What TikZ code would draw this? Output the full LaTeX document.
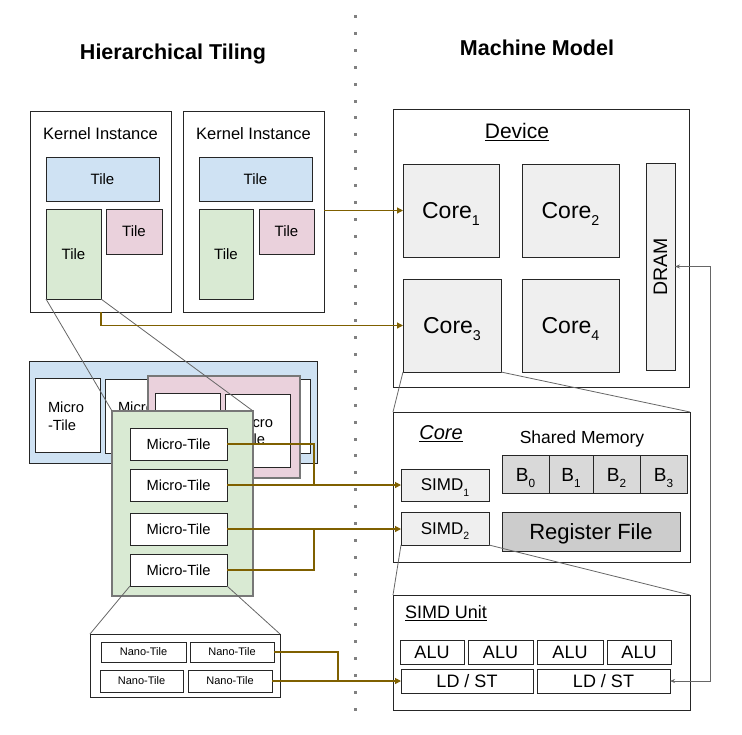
\documentclass[tikz,border=0pt]{standalone}
\usepackage{fontspec}
\usepackage{graphicx}
\setmainfont{Liberation Sans}
\usetikzlibrary{arrows.meta}
\definecolor{linkol}{HTML}{7F6000}
\definecolor{lblue}{HTML}{CFE2F3}
\definecolor{lgreen}{HTML}{D9EAD3}
\definecolor{lpink}{HTML}{EAD1DC}
\definecolor{lgray}{HTML}{EFEFEF}
\definecolor{mgray}{HTML}{D9D9D9}
\definecolor{dgray}{HTML}{CCCCCC}
\definecolor{edgegray}{HTML}{777777}
\newcommand\fsz[1]{\fontsize{#1}{#1}\selectfont}
\newcommand\sbs[1]{\raisebox{-0.32em}{\scalebox{0.62}{#1}}}
\begin{document}
\begin{tikzpicture}[x=1pt,y=-1pt,
  R/.style n args={4}{at={(#1,#2)},anchor=north west,minimum width=#3pt,minimum height=#4pt},
  bx/.style={draw=black!85,line width=0.9pt,inner sep=0pt,outer sep=0pt,fill=white,text depth=0pt},
  gbx/.style={draw=edgegray,line width=1.2pt,inner sep=0pt,outer sep=0pt},
  lab/.style={inner sep=0pt,outer sep=0pt},
  zl/.style={draw=black!60,line width=0.8pt},
  ol/.style={draw=linkol,line width=1.1pt},
  olar/.style={ol,-{Triangle[length=6pt,width=6pt]}},
  gar/.style={draw=black!60,line width=0.8pt,{Stealth[length=5pt,width=4pt]}-{Stealth[length=5pt,width=4pt]}},
  bnk/.style={bx,fill=mgray,font=\fsz{19}}
]
\useasboundingbox (0,0) rectangle (742,734);
% divider dots
\foreach \i in {0,...,41} \fill[black!50] (353.5,{15+\i*16.9}) rectangle ++(3,3);
% titles
\node[lab,anchor=base,font=\bfseries\fsz{21.5}] (t1) at (173,59) {Hierarchical Tiling};
\node[lab,anchor=base,font=\bfseries\fsz{21.5}] (t2) at (537,55) {Machine Model};
% kernel instances
\node[bx,R={30}{111}{141}{201}] (ki1) {};
\node[lab,font=\fsz{16.5}] (ki1lab) at (100.5,134) {Kernel Instance};
\node[bx,fill=lblue,R={46}{157}{113}{44},font=\fsz{15}] (b1) {Tile};
\node[bx,fill=lgreen,R={46}{209}{55}{90},font=\fsz{15}] (g1) {Tile};
\node[bx,fill=lpink,R={106}{209}{56}{45},font=\fsz{15}] (p1) {Tile};
\node[bx,R={183}{111}{141}{201}] (ki2) {};
\node[lab,font=\fsz{16.5}] (ki2lab) at (253.5,134) {Kernel Instance};
\node[bx,fill=lblue,R={199}{157}{113}{44},font=\fsz{15}] (b2) {Tile};
\node[bx,fill=lgreen,R={199}{209}{54}{90},font=\fsz{15}] (g2) {Tile};
\node[bx,fill=lpink,R={259}{209}{55}{45},font=\fsz{15}] (p2) {Tile};
% blue tile expanded
\node[bx,fill=lblue,R={29}{361}{288}{102}] (bbig) {};
\node[bx,R={35}{378}{65}{74}] (bm1) {};
\node[lab,anchor=west,align=left,font=\fontsize{14.7}{18}\selectfont] (bm1t) at (48,416) {Micro\\-Tile};
\node[bx,R={105}{379}{205}{74}] (bm2) {};
\node[lab,anchor=west,align=left,font=\fontsize{14.7}{18}\selectfont] (bm2t) at (118,416) {Micro\\-Tile};
% pink tile expanded
\node[gbx,fill=lpink,R={148}{376}{152}{102}] (pbig) {};
\node[bx,R={155}{393}{65}{74}] (pm1) {};
\node[bx,R={225}{394}{65}{73}] (pm2) {};
\node[lab,anchor=west,align=left,font=\fontsize{14.7}{17}\selectfont] (pm2t) at (237,431) {Micro\\-Tile};
% green tile expanded
\node[gbx,fill=lgreen,R={112}{411}{141}{185}] (gbig) {};
\node[bx,R={130}{428}{97}{32},font=\fsz{14.7}] (mt1) {Micro-Tile};
\node[bx,R={130}{469}{97}{32},font=\fsz{14.7}] (mt2) {Micro-Tile};
\node[bx,R={130}{513}{97}{32},font=\fsz{14.7}] (mt3) {Micro-Tile};
\node[bx,R={130}{554}{97}{32},font=\fsz{14.7}] (mt4) {Micro-Tile};
% nano tiles
\node[bx,R={90}{634}{190}{63}] (nano) {};
\node[bx,R={101}{642}{85}{20},font=\fsz{11}] (n1) {Nano-Tile};
\node[bx,R={190}{642}{84}{20},font=\fsz{11}] (n2) {Nano-Tile};
\node[bx,R={100}{670}{83}{22},font=\fsz{11}] (n3) {Nano-Tile};
\node[bx,R={188}{670}{84}{22},font=\fsz{11}] (n4) {Nano-Tile};
% device
\node[bx,R={393}{109}{296}{278}] (dev) {};
\node[lab,font=\fsz{21}] (devlab) at (517,132) {\underline{Device}};
\node[bx,fill=lgray,R={403}{164}{96}{93},font=\fsz{23}] (c1) {Core\sbs{1}};
\node[bx,fill=lgray,R={522}{164}{97}{93},font=\fsz{23}] (c2) {Core\sbs{2}};
\node[bx,fill=lgray,R={403}{279}{98}{93},font=\fsz{23}] (c3) {Core\sbs{3}};
\node[bx,fill=lgray,R={522}{279}{97}{93},font=\fsz{23}] (c4) {Core\sbs{4}};
\node[bx,fill=lgray,R={646}{163}{29}{207},font=\fsz{19.5}] (dram) {\rotatebox{90}{DRAM}};
% core
\node[bx,R={393}{412}{297}{150}] (corebox) {};
\node[lab,font=\itshape\fsz{20}] (corelab) at (441,434) {\underline{Core}};
\node[lab,font=\fsz{17.5}] (smlab) at (582,439) {Shared Memory};
\node[bnk,R={502}{455}{47}{38}] (B0) {};
\node[bnk,R={549}{455}{44}{38}] (B1) {};
\node[bnk,R={593}{455}{47}{38}] (B2) {};
\node[bnk,R={640}{455}{47}{38}] (B3) {};
\foreach \b/\k in {B0/0,B1/1,B2/2,B3/3}
  \node[lab,font=\fsz{19}] (\b lab) at ([yshift=-4pt]\b.center) {B\sbs{\k}};
\node[bx,fill=dgray,R={502}{512}{178}{39},font=\fsz{22}] (rf) {Register File};
\node[bx,fill=lgray,R={401}{469}{88}{32},font=\fsz{17}] (s1) {SIMD\sbs{1}};
\node[bx,fill=lgray,R={401}{512}{88}{33},font=\fsz{17}] (s2) {SIMD\sbs{2}};
% simd unit
\node[bx,R={393}{595}{297}{115}] (simdu) {};
\node[lab,anchor=west,font=\fsz{18}] (sulab) at (405,613) {\underline{SIMD Unit}};
\node[bx,R={400}{640}{64}{24},font=\fsz{18}] (alu1) {ALU};
\node[bx,R={468}{640}{65}{24},font=\fsz{18}] (alu2) {ALU};
\node[bx,R={537}{640}{66}{24},font=\fsz{18}] (alu3) {ALU};
\node[bx,R={607}{640}{64}{24},font=\fsz{18}] (alu4) {ALU};
\node[bx,R={401}{669}{132}{24},font=\fsz{18}] (ld1) {LD / ST};
\node[bx,R={537}{669}{133}{24},font=\fsz{18}] (ld2) {LD / ST};
% zoom lines
\draw[zl] (g1.south west) -- (gbig.north west);
\draw[zl] (g1.south east) -- (gbig.north east);
\draw[zl] (mt4.south west) -- (nano.north west);
\draw[zl] (mt4.south east) -- (nano.north east);
\draw[zl] (c3.south west) -- (corebox.north west);
\draw[zl] (c3.south east) -- (corebox.north east);
\draw[zl] (s2.south west) -- (simdu.north west);
\draw[zl] (s2.south east) -- (simdu.north east);
% mapping connectors
\coordinate (jA) at (314,0);
\coordinate (jN) at (338,0);
\coordinate (jD) at (710,0);
\draw[olar] (ki2.east |- c1.west) -- (c1.west);
\draw[olar] (ki1.south -| g1.east) |- (c3.west);
\draw[ol] (mt1.east) -| (jA |- mt2.east);
\draw[olar] (mt2.east) -- (mt2.east -| s1.west);
\draw[ol] (mt4.east) -| (jA |- mt3.east);
\draw[olar] (mt3.east) -- (mt3.east -| s2.west);
\draw[ol] (n2.east) -| (jN |- n4.east);
\draw[olar] (n4.east) -- (n4.east -| ld1.west);
\draw[gar] (ld2.east) -| (jD |- dram.east) -- (dram.east);
\end{tikzpicture}
\end{document}
